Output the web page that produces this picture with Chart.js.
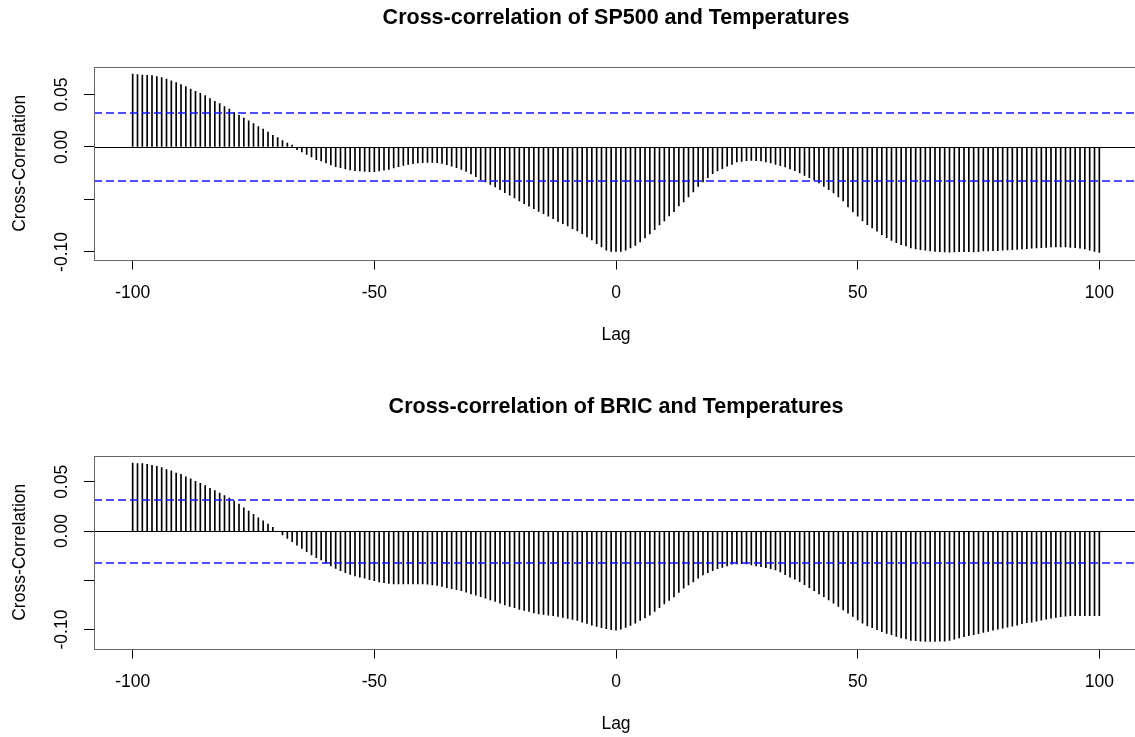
<!DOCTYPE html>
<html>
<head>
<meta charset="utf-8">
<title>Cross-correlation with Temperatures</title>
<script src="https://cdn.jsdelivr.net/npm/chart.js@4.4.1/dist/chart.umd.min.js"></script>
<style>
  html, body { margin: 0; padding: 0; background: #fff; overflow: hidden; }
  .panel { position: absolute; left: 0; width: 1150px; height: 389px; }
  #panelTop { top: 0; }
  #panelBottom { top: 389px; }
</style>
</head>
<body>
<div class="panel" id="panelTop"><canvas id="ccfSp500"></canvas></div>
<div class="panel" id="panelBottom"><canvas id="ccfBric"></canvas></div>
<script>
const FONT = "'Liberation Sans', Arial, sans-serif";

// lags -100 .. 100
const lags = Array.from({ length: 201 }, (_, i) => i - 100);
const xTicks = [-100, -50, 0, 50, 100];
const yTicks = [-0.10, -0.05, 0.00, 0.05];
const yTickLabels = ['-0.10', '', '0.00', '0.05'];
const ciBound = 0.032;

const sp500Ccf = [
  0.0694, 0.0689, 0.0686, 0.0683, 0.0679, 0.0670, 0.0660, 0.0648, 0.0629, 0.0613,
  0.0594, 0.0575, 0.0552, 0.0530, 0.0511, 0.0489, 0.0460, 0.0435, 0.0413, 0.0384,
  0.0362, 0.0327, 0.0302, 0.0276, 0.0248, 0.0222, 0.0194, 0.0171, 0.0143, 0.0111,
  0.0089, 0.0060, 0.0038, 0.0019, -0.0025, -0.0048, -0.0070, -0.0095, -0.0121, -0.0133,
  -0.0152, -0.0171, -0.0187, -0.0197, -0.0210, -0.0219, -0.0225, -0.0229, -0.0232, -0.0235,
  -0.0235, -0.0229, -0.0222, -0.0213, -0.0200, -0.0187, -0.0175, -0.0165, -0.0159, -0.0152,
  -0.0149, -0.0146, -0.0146, -0.0149, -0.0156, -0.0168, -0.0184, -0.0197, -0.0213, -0.0232,
  -0.0257, -0.0283, -0.0311, -0.0333, -0.0356, -0.0381, -0.0406, -0.0435, -0.0460, -0.0486,
  -0.0514, -0.0540, -0.0565, -0.0587, -0.0613, -0.0635, -0.0660, -0.0683, -0.0708, -0.0730,
  -0.0752, -0.0778, -0.0800, -0.0825, -0.0857, -0.0886, -0.0921, -0.0952, -0.0984, -0.0994,
  -0.0994, -0.0994, -0.0984, -0.0962, -0.0937, -0.0905, -0.0867, -0.0829, -0.0787, -0.0743,
  -0.0705, -0.0657, -0.0616, -0.0562, -0.0524, -0.0476, -0.0429, -0.0375, -0.0333, -0.0292,
  -0.0254, -0.0229, -0.0206, -0.0184, -0.0165, -0.0143, -0.0137, -0.0130, -0.0127, -0.0130,
  -0.0133, -0.0143, -0.0152, -0.0165, -0.0178, -0.0190, -0.0210, -0.0225, -0.0248, -0.0270,
  -0.0292, -0.0317, -0.0343, -0.0375, -0.0406, -0.0438, -0.0476, -0.0514, -0.0571, -0.0619,
  -0.0660, -0.0705, -0.0740, -0.0771, -0.0803, -0.0835, -0.0863, -0.0889, -0.0911, -0.0930,
  -0.0943, -0.0962, -0.0971, -0.0978, -0.0984, -0.0990, -0.0994, -0.0997, -0.1000, -0.1003,
  -0.1000, -0.0997, -0.0997, -0.0997, -0.1000, -0.0997, -0.0990, -0.0990, -0.0987, -0.0987,
  -0.0984, -0.0981, -0.0978, -0.0975, -0.0971, -0.0968, -0.0965, -0.0962, -0.0959, -0.0956,
  -0.0952, -0.0952, -0.0952, -0.0952, -0.0956, -0.0959, -0.0965, -0.0971, -0.0984, -0.0994,
  -0.1004
];

const bricCcf = [
  0.0690, 0.0685, 0.0685, 0.0678, 0.0668, 0.0658, 0.0644, 0.0624, 0.0611, 0.0590,
  0.0577, 0.0550, 0.0530, 0.0506, 0.0486, 0.0462, 0.0435, 0.0412, 0.0385, 0.0361,
  0.0334, 0.0304, 0.0273, 0.0236, 0.0202, 0.0169, 0.0135, 0.0105, 0.0071, 0.0037,
  -0.0002, -0.0040, -0.0074, -0.0108, -0.0142, -0.0175, -0.0209, -0.0243, -0.0270, -0.0294,
  -0.0327, -0.0354, -0.0378, -0.0401, -0.0422, -0.0439, -0.0455, -0.0469, -0.0479, -0.0493,
  -0.0503, -0.0516, -0.0523, -0.0532, -0.0536, -0.0536, -0.0536, -0.0536, -0.0536, -0.0536,
  -0.0536, -0.0540, -0.0547, -0.0553, -0.0563, -0.0574, -0.0584, -0.0594, -0.0604, -0.0621,
  -0.0638, -0.0651, -0.0665, -0.0682, -0.0698, -0.0715, -0.0732, -0.0749, -0.0766, -0.0779,
  -0.0796, -0.0806, -0.0816, -0.0830, -0.0840, -0.0847, -0.0854, -0.0860, -0.0867, -0.0877,
  -0.0887, -0.0898, -0.0908, -0.0924, -0.0938, -0.0955, -0.0968, -0.0982, -0.0992, -0.1002,
  -0.1005, -0.0995, -0.0978, -0.0958, -0.0935, -0.0908, -0.0881, -0.0854, -0.0816, -0.0779,
  -0.0739, -0.0705, -0.0668, -0.0623, -0.0580, -0.0547, -0.0516, -0.0479, -0.0445, -0.0422,
  -0.0401, -0.0381, -0.0368, -0.0354, -0.0337, -0.0334, -0.0331, -0.0334, -0.0344, -0.0354,
  -0.0361, -0.0371, -0.0381, -0.0395, -0.0415, -0.0442, -0.0469, -0.0489, -0.0513, -0.0543,
  -0.0574, -0.0604, -0.0638, -0.0665, -0.0698, -0.0732, -0.0766, -0.0800, -0.0833, -0.0867,
  -0.0901, -0.0935, -0.0962, -0.0982, -0.1002, -0.1022, -0.1039, -0.1053, -0.1069, -0.1086,
  -0.1096, -0.1110, -0.1113, -0.1117, -0.1120, -0.1120, -0.1120, -0.1117, -0.1117, -0.1110,
  -0.1098, -0.1085, -0.1073, -0.1063, -0.1053, -0.1043, -0.1029, -0.1019, -0.1005, -0.0995,
  -0.0985, -0.0975, -0.0965, -0.0955, -0.0941, -0.0931, -0.0924, -0.0914, -0.0904, -0.0894,
  -0.0884, -0.0877, -0.0870, -0.0864, -0.0860, -0.0860, -0.0860, -0.0860, -0.0860, -0.0860,
  -0.0860
];

// axis limits like base R: data range (incl. the bounds) widened by 4% each side
function paddedRange(values) {
  const lo = Math.min(...values, -ciBound);
  const hi = Math.max(...values, ciBound);
  const pad = (hi - lo) * 0.04;
  return [lo - pad, hi + pad];
}

// zero line, dashed bounds, frame, title and the rotated y labels
const acfDecor = {
  id: 'acfDecor',
  afterDatasetsDraw(chart) {
    const { ctx, chartArea: a, scales: { y } } = chart;
    ctx.save();
    ctx.beginPath();
    ctx.rect(a.left, a.top, a.right - a.left, a.bottom - a.top);
    ctx.clip();

    const y0 = Math.round(y.getPixelForValue(0)) + 0.5;
    ctx.lineWidth = 1;
    ctx.strokeStyle = '#000000';
    ctx.beginPath();
    ctx.moveTo(a.left, y0);
    ctx.lineTo(a.right, y0);
    ctx.stroke();

    // +/- bounds: 1.6px straddling a pixel edge so both rows come out blue
    ctx.lineWidth = 1.6;
    ctx.strokeStyle = 'rgb(20, 20, 255)';
    ctx.setLineDash([8, 4]);
    [ciBound, -ciBound].forEach(v => {
      const py = Math.round(y.getPixelForValue(v));
      ctx.beginPath();
      ctx.moveTo(a.left, py);
      ctx.lineTo(a.right, py);
      ctx.stroke();
    });
    ctx.restore();
  },
  afterDraw(chart, args, opts) {
    const { ctx, chartArea: a, scales: { y } } = chart;
    ctx.save();
    ctx.strokeStyle = '#666';
    ctx.lineWidth = 1;
    ctx.strokeRect(Math.round(a.left) + 0.5, Math.round(a.top) + 0.5,
      Math.round(a.right - a.left), Math.round(a.bottom - a.top));

    ctx.fillStyle = '#000';
    ctx.textAlign = 'center';
    ctx.textBaseline = 'middle';
    ctx.font = 'bold 21.5px ' + FONT;
    ctx.fillText(opts.title, (a.left + a.right) / 2, 18);

    ctx.font = '17.5px ' + FONT;
    yTicks.forEach((v, i) => {
      if (!yTickLabels[i]) return;
      ctx.save();
      ctx.translate(62, y.getPixelForValue(v));
      ctx.rotate(-Math.PI / 2);
      ctx.fillText(yTickLabels[i], 0, 0);
      ctx.restore();
    });
    ctx.restore();
  }
};

function drawPanel(canvasId, title, values) {
  const [yMin, yMax] = paddedRange(values);
  const axisFont = { family: FONT, size: 17.5 };
  const tickGrid = () => ({ offset: false, drawOnChartArea: false, drawTicks: true, tickLength: 10, color: '#000', lineWidth: 1 });

  return new Chart(document.getElementById(canvasId), {
    type: 'bar',
    data: {
      datasets: [{
        data: lags.map((lag, i) => ({ x: lag, y: values[i] })),
        backgroundColor: '#000',
        borderWidth: 0,
        barThickness: 1
      }]
    },
    options: {
      responsive: true,
      maintainAspectRatio: false,
      animation: false,
      layout: { padding: { top: 67, right: 12, left: 0, bottom: 0 } },
      plugins: {
        legend: { display: false },
        tooltip: { enabled: false },
        acfDecor: { title: title }
      },
      scales: {
        x: {
          type: 'linear',
          min: -108,
          max: 108,
          offset: false,
          afterBuildTicks: s => { s.ticks = xTicks.map(v => ({ value: v })); },
          afterFit: s => { s.height = 129.5; },
          grid: tickGrid(),
          border: { display: false },
          ticks: { color: '#000', font: axisFont, padding: 13.5, maxRotation: 0, autoSkip: false },
          title: { display: true, text: 'Lag', color: '#000', font: axisFont, padding: { top: 0, bottom: 43.5 } }
        },
        y: {
          min: yMin,
          max: yMax,
          afterBuildTicks: s => { s.ticks = yTicks.map(v => ({ value: v })); },
          afterFit: s => { s.width = 94; },
          grid: tickGrid(),
          border: { display: false },
          ticks: { display: false },
          title: { display: true, text: 'Cross-Correlation', color: '#000', font: axisFont, padding: { top: 9.5, bottom: 0 } }
        }
      }
    },
    plugins: [acfDecor]
  });
}

drawPanel('ccfSp500', 'Cross-correlation of SP500 and Temperatures', sp500Ccf);
drawPanel('ccfBric', 'Cross-correlation of BRIC and Temperatures', bricCcf);
</script>
</body>
</html>
